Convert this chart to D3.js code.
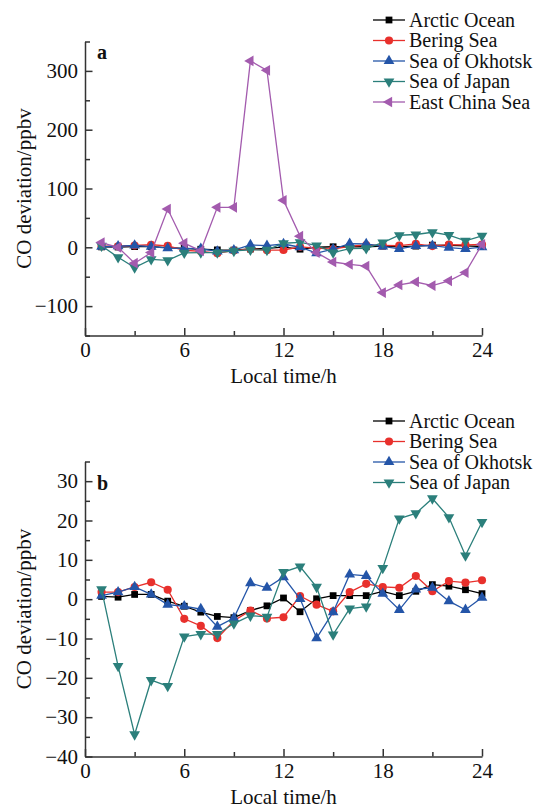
<!DOCTYPE html>
<html lang="en">
<head>
    <meta charset="UTF-8">
    <title>CO deviation by local time</title>
    <script src="https://d3js.org/d3.v7.min.js"></script>
    <style>
        body { margin: 0; background: #fff; }
        svg, svg text, .axis, .axis text { font-family: "Liberation Serif", Tinos, "Times New Roman", Times, serif !important; }
        svg text { fill: #111; }
        .axis path, .axis line { stroke: #333; stroke-width: 1.5; }
        .axis text { font-size: 21px; }
    </style>
</head>
<body>
    <svg width="539" height="807"></svg>

    <script>
        // Local time (h) of each hourly value
        const hours = [1, 2, 3, 4, 5, 6, 7, 8, 9, 10, 11, 12, 13, 14, 15, 16, 17, 18, 19, 20, 21, 22, 23, 24];

        // CO deviation (ppbv)
        const arcticOcean  = [0.7, 0.5, 1.2, 1.2, -0.5, -1.8, -3.3, -4.4, -4.7, -2.9, -1.7, 0.3, -3.2, 0.1, 0.9, 0.9, 0.9, 2.0, 0.9, 2.0, 3.7, 3.3, 2.4, 1.4];
        const beringSea    = [1.8, 1.8, 3.1, 4.3, 2.4, -5.0, -6.8, -9.9, -5.5, -2.9, -4.9, -4.6, 0.8, -1.4, -3.1, 1.8, 3.9, 3.1, 2.9, 5.9, 2.0, 4.6, 4.2, 4.8];
        const seaOfOkhotsk = [0.9, 1.8, 3.1, 1.2, -1.4, -1.8, -2.5, -7.0, -4.8, 4.1, 2.9, 5.6, 0.1, -9.9, -3.3, 6.3, 5.9, 1.4, -2.7, 2.5, 2.9, -0.5, -2.7, 0.4];
        const seaOfJapan   = [2.5, -17.0, -34.4, -20.6, -22.1, -9.5, -8.9, -8.9, -6.2, -4.2, -4.5, 6.9, 8.3, 3.1, -9.0, -2.4, -1.9, 7.9, 20.5, 21.8, 25.6, 20.8, 11.1, 19.6];
        const eastChinaSea = [8, 0, -27, -9, 65, 7, -6, 68, 68, 317, 301, 80, 19, -9, -25, -29, -32, -77, -64, -59, -65, -57, -43, 5];

        const seriesNames  = ["Arctic Ocean", "Bering Sea", "Sea of Okhotsk", "Sea of Japan", "East China Sea"];
        const seriesValues = [arcticOcean, beringSea, seaOfOkhotsk, seaOfJapan, eastChinaSea];

        // Axis ticks
        const xTicks = [0, 6, 12, 18, 24];
        const xMinorTicks = [3, 9, 15, 21];
        const yTicksA = [-100, 0, 100, 200, 300];
        const yMinorTicksA = [-150, -50, 50, 150, 250, 350];
        const yTicksB = [-40, -30, -20, -10, 0, 10, 20, 30];
        const yMinorTicksB = [-35, -25, -15, -5, 5, 15, 25, 35];

        // Styles for each series
        const colors = ["#000000", "#e8302c", "#2455a8", "#2b7f7b", "#a35bae"];
        const shapes = [
            { type: d3.symbolSquare, size: 46, rotate: 0 },
            { type: d3.symbolCircle, size: 52, rotate: 0 },
            { type: d3.symbolTriangle, size: 50, rotate: 0 },
            { type: d3.symbolTriangle, size: 50, rotate: 180 },
            { type: d3.symbolTriangle, size: 50, rotate: -90 }
        ];

        const serif = "'Liberation Serif', Tinos, 'Times New Roman', Times, serif";

        const svg = d3.select("svg").style("font-family", serif);

        const x = d3.scaleLinear().domain([0, 24]).range([85, 482]);

        const panels = [
            { label: "a", top: 41.5, bottom: 335.5, domain: [-150, 350], ticks: yTicksA, minor: yMinorTicksA, count: 5, legendTop: 20, legendX: 373 },
            { label: "b", top: 461.5, bottom: 756.5, domain: [-40, 35], ticks: yTicksB, minor: yMinorTicksB, count: 4, legendTop: 421, legendX: 373 }
        ];

        panels.forEach(function(p) {
            const y = d3.scaleLinear().domain(p.domain).range([p.bottom, p.top]);
            const g = svg.append("g");

            // minor ticks first, then major axis on top
            g.append("g")
                .attr("class", "axis")
                .attr("transform", "translate(0," + p.bottom + ")")
                .call(d3.axisBottom(x).tickValues(xMinorTicks).tickSize(-4.5).tickFormat(""))
                .select(".domain").remove();
            g.append("g")
                .attr("class", "axis")
                .attr("transform", "translate(" + x(0) + ",0)")
                .call(d3.axisLeft(y).tickValues(p.minor).tickSize(-5).tickFormat(""))
                .select(".domain").remove();

            g.append("g")
                .attr("class", "axis")
                .attr("transform", "translate(0," + p.bottom + ")")
                .call(d3.axisBottom(x).tickValues(xTicks).tickSize(-7.5).tickSizeOuter(0).tickPadding(7))
                .attr("font-family", serif);
            g.append("g")
                .attr("class", "axis")
                .attr("transform", "translate(" + x(0) + ",0)")
                .call(d3.axisLeft(y).tickValues(p.ticks).tickSize(-7.5).tickSizeOuter(0).tickPadding(7))
                .attr("font-family", serif);

            // axis titles
            g.append("text")
                .attr("x", (x.range()[0] + x.range()[1]) / 2)
                .attr("y", p.bottom + 47)
                .attr("text-anchor", "middle")
                .style("font-size", "21px")
                .text("Local time/h");
            g.append("text")
                .attr("transform", "translate(31," + ((p.top + p.bottom) / 2) + ") rotate(-90)")
                .attr("text-anchor", "middle")
                .style("font-size", "21px")
                .text("CO deviation/ppbv");

            // panel letter
            g.append("text")
                .attr("x", 97)
                .attr("y", p.top + (p.label === "a" ? 17.5 : 28.5))
                .style("font-size", "20px")
                .style("font-weight", "bold")
                .text(p.label);

            // series
            const line = d3.line().x((d, i) => x(hours[i])).y(d => y(d));
            for (let s = 0; s < p.count; s++) {
                const vals = seriesValues[s];
                const sym = d3.symbol().type(shapes[s].type).size(shapes[s].size);
                const sg = g.append("g");
                sg.append("path")
                    .datum(vals)
                    .attr("d", line)
                    .attr("fill", "none")
                    .attr("stroke", colors[s])
                    .attr("stroke-width", 1.3);
                sg.selectAll(".pt")
                    .data(vals)
                    .enter().append("path")
                    .attr("class", "pt")
                    .attr("d", sym)
                    .attr("fill", colors[s])
                    .attr("transform", (d, i) => "translate(" + x(hours[i]) + "," + y(d) + ") rotate(" + shapes[s].rotate + ")");
            }

            // legend
            const leg = g.append("g");
            for (let s = 0; s < p.count; s++) {
                const ly = p.legendTop + s * 20.5;
                const sym = d3.symbol().type(shapes[s].type).size(shapes[s].size);
                leg.append("line")
                    .attr("x1", p.legendX).attr("x2", p.legendX + 32)
                    .attr("y1", ly).attr("y2", ly)
                    .attr("stroke", colors[s])
                    .attr("stroke-width", 1.3);
                leg.append("path")
                    .attr("d", sym)
                    .attr("fill", colors[s])
                    .attr("transform", "translate(" + (p.legendX + 16) + "," + ly + ") rotate(" + shapes[s].rotate + ")");
                leg.append("text")
                    .attr("x", p.legendX + 36)
                    .attr("y", ly + 6.5)
                    .style("font-size", "20px")
                    .text(seriesNames[s]);
            }
        });
    </script>
</body>
</html>
